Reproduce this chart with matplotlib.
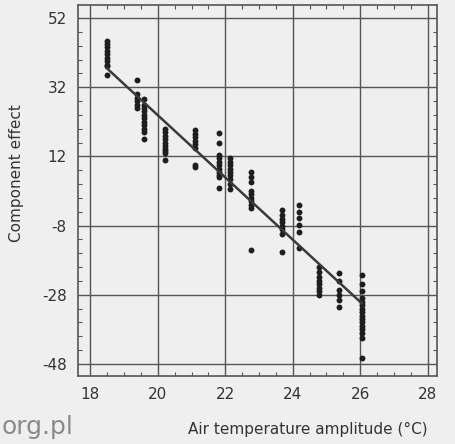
import numpy as np
import matplotlib
matplotlib.use("Agg")
import matplotlib.pyplot as plt
from matplotlib.ticker import MultipleLocator

plt.rcParams["axes.unicode_minus"] = False

# Data (x: air temperature amplitude, y: component effect)
col_x = [18.5, 19.38, 19.6, 20.2, 21.1, 21.8, 22.15, 22.75, 23.67, 24.18, 24.77, 25.37, 26.05]
col_y = [
    [45.5, 44.5, 43.5, 42.5, 41.5, 40.5, 39.5, 38.5, 38.0, 35.5],
    [34.0, 30.0, 29.0, 28.0, 27.0, 26.0],
    [28.5, 27.0, 26.0, 25.0, 24.0, 23.0, 22.0, 21.0, 20.0, 19.0, 17.0],
    [20.0, 19.0, 18.0, 17.0, 16.0, 15.0, 14.0, 13.5, 13.0, 11.0],
    [19.5, 18.5, 17.5, 16.5, 15.5, 14.5, 9.5, 9.0],
    [18.8, 16.0, 12.5, 11.5, 10.5, 9.5, 8.5, 7.5, 6.5, 6.0, 3.0],
    [11.5, 10.5, 9.5, 8.5, 7.5, 6.5, 5.5, 4.0, 2.5],
    [7.5, 6.0, 4.5, 2.0, 1.0, 0.0, -1.0, -2.0, -3.0, -15.0],
    [-3.5, -5.0, -6.0, -7.0, -8.0, -9.0, -10.5, -15.6],
    [-2.0, -4.0, -5.8, -7.8, -9.8, -14.5],
    [-20.0, -21.5, -23.0, -24.0, -25.0, -26.0, -27.0, -28.0],
    [-21.7, -24.0, -26.5, -28.0, -29.5, -31.5],
    [-22.3, -25.0, -27.0, -29.0, -30.0, -31.0, -32.0, -33.0, -34.0, -35.0,
     -36.0, -37.0, -38.0, -39.0, -40.5, -46.3],
]
fit_x = [18.5, 26.05]
fit_y = [37.4, -30.5]

x_ticks = [18, 20, 22, 24, 26, 28]
y_ticks = [52, 32, 12, -8, -28, -48]

bg = "#efefef"
ink = "#555555"

fig = plt.figure(figsize=(4.55, 4.44), dpi=100, facecolor=bg)
ax = fig.add_axes([0.171, 0.153, 0.789, 0.836], facecolor=bg)

# points
for x, ys in zip(col_x, col_y):
    ax.scatter([x] * len(ys), ys, s=18, color="#1e1e1e", zorder=3, linewidths=0)

# fitted line
ax.plot(fit_x, fit_y, color="#3a3a3a", lw=1.8, zorder=4)

ax.set_xlim(17.63, 28.27)
ax.set_ylim(-51.5, 55.8)
ax.set_xticks(x_ticks)
ax.set_yticks(y_ticks)
ax.xaxis.set_minor_locator(MultipleLocator(0.5))
ax.yaxis.set_minor_locator(MultipleLocator(4))
ax.grid(True, which="major", color=ink, lw=1.0)
ax.set_axisbelow(True)

ax.tick_params(which="major", length=0, pad=8, labelsize=11, colors="#333333")
ax.tick_params(which="minor", direction="in", length=3, width=0.8, color=ink,
               top=True, right=True, bottom=True, left=True)
for sp in ax.spines.values():
    sp.set_color(ink)
    sp.set_linewidth(1.2)

ax.set_xlabel("Air temperature amplitude (°C)", fontsize=11, color="#333333")
ax.xaxis.set_label_coords(0.64, -0.125)
ax.set_ylabel("Component effect", fontsize=11, color="#333333")
ax.yaxis.set_label_coords(-0.15, 0.547)

fig.text(0.003, 0.012, "org.pl", fontsize=18, color="#8a8a8a", ha="left", va="bottom")

fig.savefig("out.png", dpi=100, facecolor=bg)
